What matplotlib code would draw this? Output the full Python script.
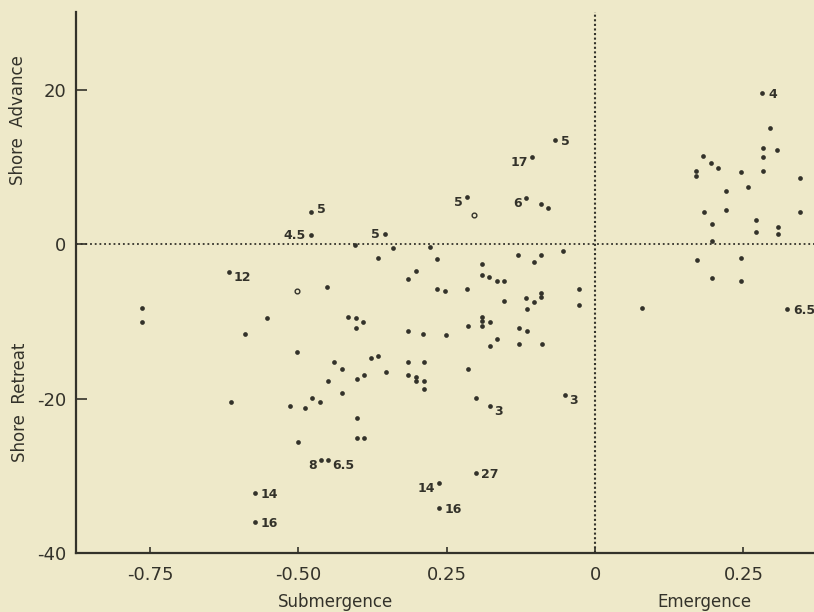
import matplotlib.pyplot as plt

# relative sea level change (x) against shoreline change (y)
xs = [-0.764, -0.764, -0.617, -0.614, -0.590, -0.573, -0.573, -0.553, -0.503, -0.514,
      -0.501, -0.489, -0.479, -0.479, -0.477, -0.464, -0.462, -0.450, -0.452, -0.450,
      -0.440, -0.427, -0.427, -0.417, -0.403, -0.391, -0.403, -0.405, -0.401, -0.390,
      -0.401, -0.401, -0.390, -0.378, -0.366, -0.366, -0.354, -0.352, -0.341, -0.315,
      -0.315, -0.315, -0.315, -0.302, -0.302, -0.302, -0.290, -0.288, -0.288, -0.288,
      -0.278, -0.266, -0.266, -0.253, -0.251, -0.216, -0.216, -0.214, -0.214, -0.201,
      -0.201, -0.263, -0.263, -0.191, -0.191, -0.179, -0.165, -0.153, -0.191, -0.191,
      -0.177, -0.191, -0.165, -0.177, -0.153, -0.177, -0.130, -0.091, -0.103, -0.054,
      -0.128, -0.115, -0.128, -0.089, -0.116, -0.103, -0.091, -0.091, -0.115, -0.027,
      -0.027, -0.051, -0.106, -0.067, -0.116, -0.091, -0.079,
      0.079, 0.282, 0.295, 0.283, 0.307, 0.283, 0.182, 0.196, 0.207, 0.170,
      0.170, 0.246, 0.283, 0.346, 0.258, 0.221, 0.221, 0.184, 0.346, 0.197,
      0.272, 0.272, 0.309, 0.309, 0.197, 0.172, 0.246, 0.197, 0.246, 0.324]
ys = [-8.2, -10.0, -3.6, -20.4, -11.6, -32.2, -36.0, -9.5, -13.9, -20.9,
      -25.6, -21.2, 4.2, 1.2, -19.9, -20.4, -27.9, -27.9, -5.5, -17.7,
      -15.2, -16.1, -19.2, -9.4, -9.5, -10.0, -10.8, -0.1, -17.5, -16.9,
      -22.5, -25.1, -25.1, -14.7, -14.4, -1.8, 1.3, -16.5, -0.5, -4.5,
      -11.2, -15.2, -16.9, -3.5, -17.2, -17.7, -11.6, -15.3, -17.7, -18.8,
      -0.3, -1.9, -5.8, -6.0, -11.8, -5.8, 6.2, -10.6, -16.1, -19.9,
      -29.6, -30.9, -34.2, -2.5, -4.0, -4.2, -4.7, -4.7, -9.4, -9.9,
      -10.1, -10.6, -12.3, -13.2, -7.3, -20.9, -1.4, -1.4, -2.3, -0.9,
      -10.8, -11.2, -12.9, -12.9, -6.9, -7.4, -6.3, -6.8, -8.4, -5.8,
      -7.9, -19.5, 11.3, 13.5, 6.0, 5.3, 4.7,
      -8.2, 19.6, 15.1, 12.5, 12.3, 11.3, 11.4, 10.6, 9.9, 9.5,
      8.9, 9.4, 9.5, 8.6, 7.5, 6.9, 4.5, 4.2, 4.2, 2.7,
      3.2, 1.6, 2.2, 1.4, 0.4, -2.0, -1.7, -4.4, -4.8, -8.4]

# two hollow points
open_x = [-0.503, -0.204]
open_y = [-6.1, 3.8]

lab_text = ["12", "14", "16", "5", "4.5", "8", "6.5", "5", "5", "17",
            "6", "5", "3", "3", "27", "14", "16", "4", "6.5"]
lab_x = [-0.617, -0.573, -0.573, -0.479, -0.479, -0.462, -0.450, -0.354, -0.216, -0.106,
         -0.116, -0.067, -0.177, -0.051, -0.201, -0.263, -0.263, 0.282, 0.324]
lab_y = [-3.6, -32.2, -36.0, 4.2, 1.2, -27.9, -27.9, 1.3, 6.2, 11.3,
         6.0, 13.5, -20.9, -19.5, -29.6, -30.9, -34.2, 19.6, -8.4]

xticks = [-0.75, -0.50, -0.25, 0, 0.25]
xtick_labels = ["-0.75", "-0.50", "0.25", "0", "0.25"]
yticks = [-40, -20, 0, 20]
ytick_labels = ["-40", "-20", "0", "20"]

bg = "#eee9c9"
ink = "#33322a"

fig = plt.figure(figsize=(8.14, 6.12), dpi=100, facecolor=bg)
ax = fig.add_axes([0.0934, 0.0964, 0.9066, 0.8836], facecolor=bg)

ax.plot(xs, ys, 'o', color=ink, markersize=3.4, markeredgewidth=0, zorder=3)
ax.plot(open_x, open_y, 'o', color=bg, markeredgecolor=ink, markersize=3.4,
        markeredgewidth=1.0, zorder=4)

ax.axhline(0, color=ink, lw=1.3, ls=(0, (1, 1.6)), zorder=2)
ax.axvline(0, color=ink, lw=1.5, ls=(0, (1, 1.2)), zorder=2)

# where each number sits relative to its dot (points)
R = (4, -1, 'left')
RD = (3, -4, 'left')
L = (-4, 0, 'right')
LD = (-3, -4, 'right')
offs = [RD, R, R, (4, 2, 'left'), L, LD, RD, L, LD, LD,
        LD, R, RD, RD, R, LD, R, R, R]
for t, x, y, (dx, dy, ha) in zip(lab_text, lab_x, lab_y, offs):
    ax.annotate(t, (x, y), xytext=(dx, dy), textcoords='offset points',
                ha=ha, va='center', fontsize=9, fontweight='bold', color=ink)

ax.set_xlim(-0.875, 0.369)
ax.set_ylim(-40, 30.1)
ax.set_xticks(xticks)
ax.set_xticklabels(xtick_labels)
ax.set_yticks(yticks)
ax.set_yticklabels(ytick_labels)
ax.tick_params(axis='x', direction='in', length=4, width=1.2, pad=9,
               labelsize=13, colors=ink)
ax.tick_params(axis='y', direction='in', length=8, width=1.2, pad=7,
               labelsize=13, colors=ink)
for s in ['top', 'right']:
    ax.spines[s].set_visible(False)
for s in ['left', 'bottom']:
    ax.spines[s].set_linewidth(1.6)
    ax.spines[s].set_color(ink)

fig.text(0.022, 0.804, "Shore  Advance", rotation=90, ha='center', va='center',
         fontsize=12, color=ink)
fig.text(0.025, 0.343, "Shore  Retreat", rotation=90, ha='center', va='center',
         fontsize=12, color=ink)
fig.text(0.412, 0.017, "Submergence", ha='center', va='center', fontsize=12, color=ink)
fig.text(0.866, 0.017, "Emergence", ha='center', va='center', fontsize=12, color=ink)

fig.savefig("out.png", dpi=100, facecolor=bg)
